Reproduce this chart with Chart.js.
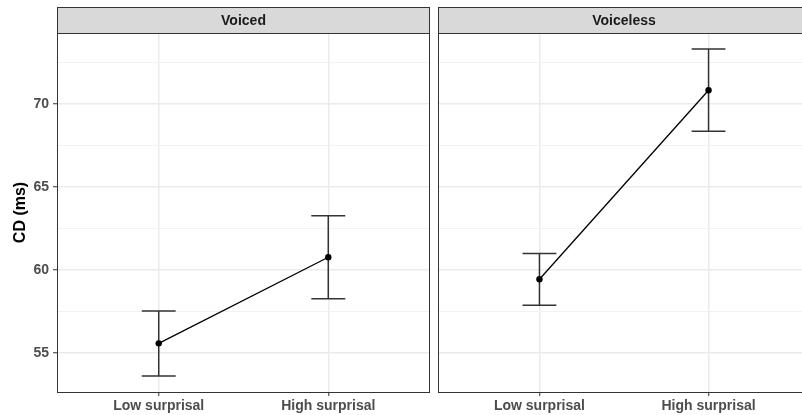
<!DOCTYPE html>
<html>
<head>
<meta charset="utf-8">
<script src="https://cdn.jsdelivr.net/npm/chart.js@4.4.1/dist/chart.umd.min.js"></script>
<style>
  body { margin: 0; background: #fff; overflow: hidden; }
  #wrap { position: relative; width: 802px; height: 415px; }
  #left { position: absolute; left: 0; top: 0; }
  #rightBox { position: absolute; left: 434px; top: 0; width: 368px; height: 415px; overflow: hidden; }
</style>
</head>
<body>
<div id="wrap">
  <canvas id="left" width="434" height="415"></canvas>
  <div id="rightBox"><canvas id="right" width="380" height="415"></canvas></div>
</div>
<script>
const categories = ['Low surprisal', 'High surprisal'];
const panels = ['Voiced', 'Voiceless'];

const voicedMean = [55.58, 60.77];
const voicedLow = [53.61, 58.27];
const voicedHigh = [57.53, 63.27];

const voicelessMean = [59.44, 70.83];
const voicelessLow = [57.87, 68.36];
const voicelessHigh = [61.0, 73.31];

const yMajorTicks = [55, 60, 65, 70];
const yMinorTicks = [57.5, 62.5, 67.5, 72.5];
const yRange = [52.65, 74.28];

const FONT = '"Liberation Sans", Arial, Helvetica, sans-serif';
const capWidth = 0.2;

// strip, panel border and error bars
const panelDecor = {
  id: 'panelDecor',
  beforeDatasetsDraw(chart, args, opts) {
    const { ctx, scales: { x, y } } = chart;
    const half = x.getPixelForValue(1 + capWidth / 2) - x.getPixelForValue(1);
    ctx.save();
    ctx.strokeStyle = '#333';
    ctx.lineWidth = 1.5;
    opts.low.forEach((lo, i) => {
      const px = x.getPixelForValue(i + 1);
      const y1 = y.getPixelForValue(lo);
      const y2 = y.getPixelForValue(opts.high[i]);
      ctx.beginPath();
      ctx.moveTo(px, y1); ctx.lineTo(px, y2);
      ctx.moveTo(px - half, y1); ctx.lineTo(px + half, y1);
      ctx.moveTo(px - half, y2); ctx.lineTo(px + half, y2);
      ctx.stroke();
    });
    ctx.restore();
  },
  afterDraw(chart, args, opts) {
    const { ctx, chartArea: a } = chart;
    ctx.save();
    // strip
    ctx.fillStyle = '#d9d9d9';
    ctx.fillRect(a.left, 7, a.right - a.left, a.top - 7);
    ctx.strokeStyle = '#333';
    ctx.lineWidth = 1;
    ctx.strokeRect(a.left + 0.5, 7.5, a.right - a.left - 1, a.top - 7);
    ctx.fillStyle = '#1a1a1a';
    ctx.font = 'bold 14px ' + FONT;
    ctx.textAlign = 'center';
    ctx.textBaseline = 'middle';
    ctx.fillText(opts.title, (a.left + a.right) / 2, (7 + a.top) / 2 + 1);
    // panel border
    ctx.strokeStyle = '#333';
    ctx.strokeRect(a.left + 0.5, a.top + 0.5, a.right - a.left - 1, a.bottom - a.top);
    ctx.restore();
  }
};

function makePanel(id, title, mean, low, high, showY) {
  const yAxis = {
    type: 'linear',
    min: yRange[0],
    max: yRange[1],
    border: { display: false },
    afterBuildTicks: s => {
      s.ticks = yMajorTicks.concat(yMinorTicks).sort((p, q) => p - q).map(v => ({ value: v }));
    },
    afterFit: s => { s.width = showY ? 57 : 4; },
    grid: {
      drawTicks: showY,
      tickLength: 4,
      color: c => yMajorTicks.includes(c.tick.value) ? '#ebebeb' : '#f2f2f2',
      lineWidth: c => yMajorTicks.includes(c.tick.value) ? 1.5 : 1,
      tickColor: c => yMajorTicks.includes(c.tick.value) ? '#333' : 'rgba(0,0,0,0)',
      tickWidth: 1
    },
    ticks: {
      display: showY,
      padding: 4,
      color: '#4d4d4d',
      font: { family: FONT, size: 14, weight: 'bold' },
      callback: v => yMajorTicks.includes(v) ? v : ''
    },
    title: {
      display: showY,
      text: 'CD (ms)',
      color: '#000',
      padding: { top: 11, bottom: 0 },
      font: { family: FONT, size: 16, weight: 'bold' }
    }
  };

  return new Chart(document.getElementById(id), {
    type: 'line',
    data: {
      datasets: [{
        data: mean.map((m, i) => ({ x: i + 1, y: m })),
        borderColor: '#000',
        borderWidth: 1.3,
        pointRadius: 3.2,
        pointBackgroundColor: '#000',
        pointBorderWidth: 0,
        tension: 0
      }]
    },
    options: {
      responsive: false,
      animation: false,
      layout: { padding: { top: 33, right: showY ? 4 : 2, left: 0, bottom: 0 } },
      plugins: {
        legend: { display: false },
        tooltip: { enabled: false },
        panelDecor: { title: title, low: low, high: high }
      },
      scales: {
        x: {
          type: 'linear',
          min: 0.4,
          max: 2.6,
          border: { display: false },
          afterBuildTicks: s => { s.ticks = categories.map((c, i) => ({ value: i + 1 })); },
          afterFit: s => { s.height = 23; },
          grid: {
            color: '#ebebeb',
            lineWidth: 1.5,
            tickColor: '#333',
            tickLength: 4,
            tickWidth: 1
          },
          ticks: {
            autoSkip: false,
            maxRotation: 0,
            padding: 2,
            color: '#4d4d4d',
            font: { family: FONT, size: 14, weight: 'bold' },
            callback: v => categories[Math.round(v) - 1]
          }
        },
        y: yAxis
      }
    },
    plugins: [panelDecor]
  });
}

makePanel('left', panels[0], voicedMean, voicedLow, voicedHigh, true);
makePanel('right', panels[1], voicelessMean, voicelessLow, voicelessHigh, false);
</script>
</body>
</html>
